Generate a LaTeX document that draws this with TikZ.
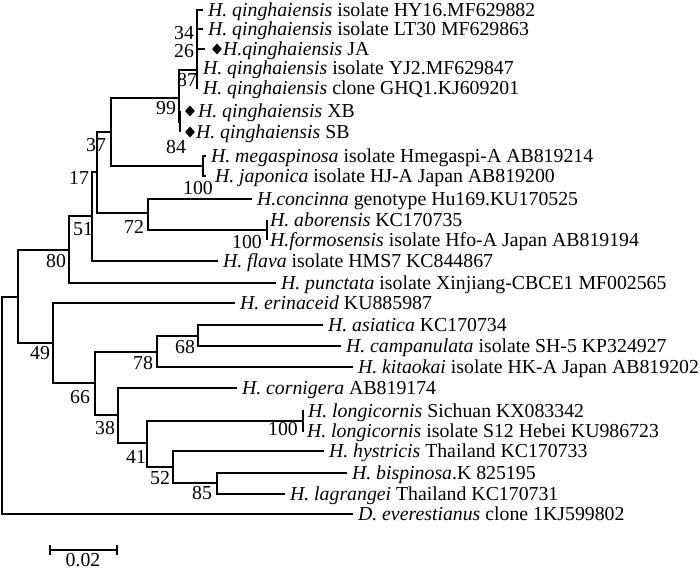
\documentclass[tikz,border=0pt]{standalone}
\usepackage{fontspec}
\setmainfont{Liberation Serif}
\usetikzlibrary{shapes.geometric}
\begin{document}
\begin{tikzpicture}[x=1pt,y=-1pt,
  br/.style={line width=1.3pt},
  leaf/.style={anchor=west, inner xsep=5pt, inner ysep=0pt, outer sep=0pt,
    font=\fontsize{19.8}{22}\selectfont, text height=14pt, text depth=1.5pt},
  bs/.style={inner sep=0pt, font=\fontsize{19.8}{22}\selectfont},
  mk/.style={diamond, fill=black, draw=none, inner sep=0pt, minimum width=10pt, minimum height=11pt}
]
\useasboundingbox (0,0) rectangle (700,572);
% internal nodes
\coordinate (R) at (2,405);
\coordinate (A) at (18,297);
\coordinate (N80) at (69,250);
\coordinate (N51) at (92,216);
\coordinate (N17) at (97,172);
\coordinate (N37) at (111,132);
\coordinate (N99) at (179,98);
\coordinate (N87) at (197,70);
\coordinate (N84) at (180,122);
\coordinate (NM) at (203,166);
\coordinate (N72) at (148,213);
\coordinate (NA) at (267,230);
\coordinate (N49) at (53,343);
\coordinate (N66) at (95,383);
\coordinate (N78) at (157,352);
\coordinate (N68) at (198,336);
\coordinate (N38) at (118,415);
\coordinate (N41) at (147,443);
\coordinate (NL) at (303,421);
\coordinate (N52) at (173,467);
\coordinate (N85) at (217,483);
% leaves
\node[leaf] (hy) at (203,10) {\textit{H. qinghaiensis} isolate HY16.MF629882};
\node[leaf] (lt) at (203,29) {\textit{H. qinghaiensis} isolate LT30 MF629863};
\coordinate (jat) at (205,49);
\node[mk] (dja) at (217,49) {};
\node[leaf, inner xsep=0pt] (ja) at (223,49) {\textit{H.qinghaiensis} JA};
\node[leaf] (yj) at (198,68) {\textit{H. qinghaiensis} isolate YJ2.MF629847};
\node[leaf] (gh) at (198,88) {\textit{H. qinghaiensis} clone GHQ1.KJ609201};
\coordinate (xbt) at (180,111);
\coordinate (sbt) at (180,132);
\node[mk] (dxb) at (190,111) {};
\node[mk] (dsb) at (190,132) {};
\node[leaf, inner xsep=0pt] (xb) at (198,111) {\textit{H. qinghaiensis} XB};
\node[leaf, inner xsep=0pt] (sb) at (196,132) {\textit{H. qinghaiensis} SB};
\node[leaf] (mega) at (206,156) {\textit{H. megaspinosa} isolate Hmegaspi-A AB819214};
\node[leaf, inner xsep=9pt] (jap) at (206,176) {\textit{H. japonica} isolate HJ-A Japan AB819200};
\node[leaf] (conc) at (252,199) {\textit{H.concinna} genotype Hu169.KU170525};
\node[leaf, inner xsep=3pt] (abor) at (267,220) {\textit{H. aborensis} KC170735};
\node[leaf, inner xsep=3pt] (formo) at (267,240) {\textit{H.formosensis} isolate Hfo-A Japan AB819194};
\node[leaf] (flava) at (218,261) {\textit{H. flava} isolate HMS7 KC844867};
\node[leaf] (punct) at (276,283) {\textit{H. punctata} isolate Xinjiang-CBCE1 MF002565};
\node[leaf] (erin) at (235,303) {\textit{H. erinaceid} KU885987};
\node[leaf] (asia) at (323,325) {\textit{H. asiatica} KC170734};
\node[leaf] (camp) at (341,346) {\textit{H. campanulata} isolate SH-5 KP324927};
\node[leaf] (kita) at (353,367) {\textit{H. kitaokai} isolate HK-A Japan AB819202};
\node[leaf] (corn) at (237,388) {\textit{H. cornigera} AB819174};
\node[leaf, inner xsep=4pt] (lons) at (304,411) {\textit{H. longicornis} Sichuan KX083342};
\node[leaf, inner xsep=3pt] (lonh) at (304,431) {\textit{H. longicornis} isolate S12 Hebei KU986723};
\node[leaf] (hyst) at (324,451) {\textit{H. hystricis} Thailand KC170733};
\node[leaf] (bisp) at (347,473) {\textit{H. bispinosa}.K 825195};
\node[leaf] (lagr) at (285,494) {\textit{H. lagrangei} Thailand KC170731};
\node[leaf] (dev) at (353,514) {\textit{D. everestianus} clone 1KJ599802};
% branches
\draw[br] (R) |- (A);
\draw[br] (R) |- (dev.west);
\draw[br] (A) |- (N80);
\draw[br] (A) |- (N49);
\draw[br] (N80) |- (N51);
\draw[br] (N80) |- (punct.west);
\draw[br] (N51) |- (N17);
\draw[br] (N51) |- (flava.west);
\draw[br] (N17) |- (N37);
\draw[br] (N17) |- (N72);
\draw[br] (N37) |- (N99);
\draw[br] (N37) |- (NM);
\draw[br] (N99) |- (N87);
\draw[br] (N99) |- (N84);
\draw[br] (N87) |- (hy.west);
\draw[br] (N87) |- (lt.west);
\draw[br] (N87) |- (jat);
\draw[br] (N87) |- (yj.west);
\draw[br] (N87) |- (gh.west);
\draw[br] (N84) |- (xbt);
\draw[br] (N84) |- (sbt);
\draw[br] (NM) |- (mega.west);
\draw[br] (NM) |- (jap.west);
\draw[br] (N72) |- (conc.west);
\draw[br] (N72) |- (NA);
\draw[br] (NA) |- (abor.west);
\draw[br] (NA) |- (formo.west);
\draw[br] (N49) |- (erin.west);
\draw[br] (N49) |- (N66);
\draw[br] (N66) |- (N78);
\draw[br] (N66) |- (N38);
\draw[br] (N78) |- (N68);
\draw[br] (N78) |- (kita.west);
\draw[br] (N68) |- (asia.west);
\draw[br] (N68) |- (camp.west);
\draw[br] (N38) |- (corn.west);
\draw[br] (N38) |- (N41);
\draw[br] (N41) |- (NL);
\draw[br] (N41) |- (N52);
\draw[br] (NL) |- (lons.west);
\draw[br] (NL) |- (lonh.west);
\draw[br] (N52) |- (hyst.west);
\draw[br] (N52) |- (N85);
\draw[br] (N85) |- (bisp.west);
\draw[br] (N85) |- (lagr.west);
% bootstrap values
\node[bs] (b34) at (184,33) {34};
\node[bs] (b26) at (184,51) {26};
\node[bs] (b87) at (187,80) {87};
\node[bs] (b99) at (166,108) {99};
\node[bs] (b84) at (176,147) {84};
\node[bs] (b37) at (96,145) {37};
\node[bs] (b17) at (79,178) {17};
\node[bs] (b100a) at (198,188) {100};
\node[bs] (b72) at (134,227) {72};
\node[bs] (b100b) at (247,242) {100};
\node[bs] (b51) at (83,229) {51};
\node[bs] (b80) at (56,261) {80};
\node[bs] (b49) at (40,353) {49};
\node[bs] (b68) at (185,347) {68};
\node[bs] (b78) at (143,363) {78};
\node[bs] (b66) at (80,397) {66};
\node[bs] (b38) at (105,428) {38};
\node[bs] (b100c) at (283,429) {100};
\node[bs] (b41) at (136,457) {41};
\node[bs] (b52) at (160,478) {52};
\node[bs] (b85) at (202,493) {85};
% scale bar
\coordinate (s1) at (50,550);
\coordinate (s2) at (117,550);
\draw[br] (s1) -- (s2);
\draw[br] ([yshift=-5pt]s1) -- ([yshift=5pt]s1);
\draw[br] ([yshift=-5pt]s2) -- ([yshift=5pt]s2);
\node[bs] (sl) at (83,560) {0.02};
\end{tikzpicture}
\end{document}
